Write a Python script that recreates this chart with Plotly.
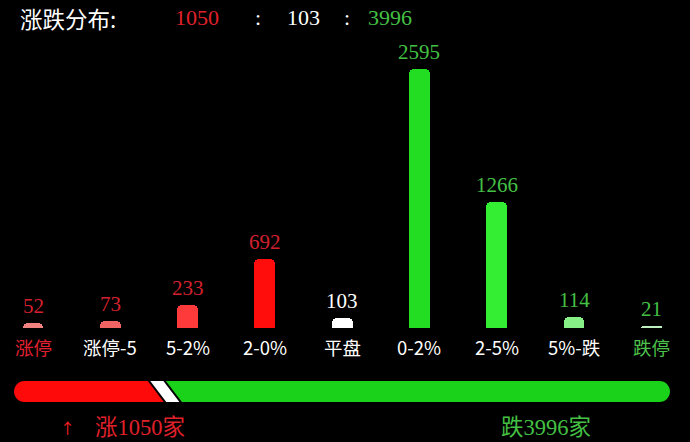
import plotly.graph_objects as go

# Data
categories = ['涨停', '涨停-5', '5-2%', '2-0%', '平盘', '0-2%', '2-5%', '5%-跌', '跌停']
counts = [52, 73, 233, 692, 103, 2595, 1266, 114, 21]

# Summary: up / flat / down
up_count = sum(counts[:4])
flat_count = counts[4]
down_count = sum(counts[5:])
total = up_count + flat_count + down_count

# Styles
bar_colors = ['#F08282', '#F26464', '#FF3A3A', '#FF0D0D', '#FFFFFF',
              '#22DD22', '#33EE33', '#86F086', '#BDEFBD']
value_colors = ['#D4202E'] * 4 + ['#FFFFFF'] + ['#44C044'] * 4
cat_colors = ['#E02030'] + ['#FFFFFF'] * 7 + ['#4CC24C']
RED = '#E0202A'
GREEN = '#44C044'
serif = 'Liberation Serif, Noto Sans CJK SC'
cjk = 'Noto Sans CJK SC, Liberation Sans'

W, H = 690, 442

fig = go.Figure()

# Main bars
fig.add_trace(go.Bar(
    x=list(range(len(categories))), y=counts,
    marker=dict(color=bar_colors, cornerradius=5, line=dict(width=0)),
    width=0.27, hoverinfo='skip', showlegend=False,
))

annotations = []
for i, (c, v) in enumerate(zip(categories, counts)):
    # value label above each bar
    annotations.append(dict(x=i, y=v, xref='x', yref='y', text=str(v), showarrow=False,
                            xanchor='center', yanchor='bottom', yshift=3,
                            font=dict(family=serif, size=21, color=value_colors[i])))
    # category label under each bar
    annotations.append(dict(x=i, y=(H - 347) / H, xref='x', yref='paper', text=c,
                            showarrow=False, xanchor='center', yanchor='middle',
                            font=dict(family=cjk, size=18.5, color=cat_colors[i])))


def paper_text(x, y, text, font, anchor='center'):
    return dict(x=x / W, y=y, xref='paper', yref='paper', text=text, showarrow=False,
                xanchor=anchor, yanchor='middle', font=font)


# Header row
top_y = (H - 18) / H
annotations += [
    paper_text(18, top_y, '涨跌分布:', dict(family=cjk, size=22.5, color='#FFFFFF'), 'left'),
    paper_text(197, top_y, str(up_count), dict(family=serif, size=22, color=RED)),
    paper_text(258, top_y, ':', dict(family=serif, size=22, color='#FFFFFF')),
    paper_text(303, top_y, str(flat_count), dict(family=serif, size=22, color='#FFFFFF')),
    paper_text(347, top_y, ':', dict(family=serif, size=22, color='#FFFFFF')),
    paper_text(390, top_y, str(down_count), dict(family=serif, size=22, color=GREEN)),
]

# Footer row
foot_y = (H - 427) / H
annotations += [
    paper_text(67, foot_y, '↑', dict(family=cjk, size=15, color='#FF2020')),
    paper_text(93, foot_y, f'涨{up_count}家', dict(family=serif, size=22.5, color=RED), 'left'),
    paper_text(499, foot_y, f'跌{down_count}家', dict(family=serif, size=22.5, color=GREEN), 'left'),
]

# Ratio pill on its own axes (x2/y2), drawn in data units of counts
pill_x0, pill_x1 = 14, 670
pill_top, pill_bot = 381, 402
upx = total / (pill_x1 - pill_x0)      # count units per pixel
r = 10.5 * upx                         # end cap radius
k = 0.552
slant = 16 * upx
gap = 2.5 * upx

red_end = up_count
white_start = red_end + gap
white_end = up_count + flat_count + gap
green_start = white_end + gap

red_path = (f'M {red_end},1 L {red_end + slant},0 L {r},0 '
            f'C {r - k * r},0 0,{0.5 - 0.5 * k} 0,0.5 '
            f'C 0,{0.5 + 0.5 * k} {r - k * r},1 {r},1 Z')
white_path = (f'M {white_start},1 L {white_end},1 L {white_end + slant},0 '
              f'L {white_start + slant},0 Z')
green_path = (f'M {green_start},1 L {total - r},1 '
              f'C {total - r + k * r},1 {total},{0.5 + 0.5 * k} {total},0.5 '
              f'C {total},{0.5 - 0.5 * k} {total - r + k * r},0 {total - r},0 '
              f'L {green_start + slant},0 Z')

shapes = [
    dict(type='path', path=red_path, xref='x2', yref='y2', fillcolor='#FF0A0A', line=dict(width=0)),
    dict(type='path', path=white_path, xref='x2', yref='y2', fillcolor='#FFFFFF', line=dict(width=0)),
    dict(type='path', path=green_path, xref='x2', yref='y2', fillcolor='#1AD21A', line=dict(width=0)),
]

# Axis scaling: bar base at y=328px, 2595 reaches y=69px
base_px = H - 328
scale = (328 - 69) / max(counts)
y_min = -base_px / scale
y_max = (H - base_px) / scale

fig.update_layout(
    width=W, height=H,
    margin=dict(l=0, r=0, t=0, b=0),
    paper_bgcolor='black', plot_bgcolor='black',
    annotations=annotations, shapes=shapes,
    xaxis=dict(range=[-0.427, 8.5], domain=[0, 1], visible=False, fixedrange=True),
    yaxis=dict(range=[y_min, y_max], domain=[0, 1], visible=False, fixedrange=True),
    xaxis2=dict(range=[0, total], domain=[pill_x0 / W, pill_x1 / W], visible=False,
                anchor='y2', fixedrange=True),
    yaxis2=dict(range=[0, 1], domain=[(H - pill_bot) / H, (H - pill_top) / H], visible=False,
                anchor='x2', fixedrange=True),
    bargap=0,
)

# remove the page's default body margin so the figure fills the window
fig.write_html("out.html", config=dict(displayModeBar=False),
               post_script="document.body.style.margin='0';"
                           "document.body.style.overflow='hidden';"
                           "document.body.style.background='black';")
